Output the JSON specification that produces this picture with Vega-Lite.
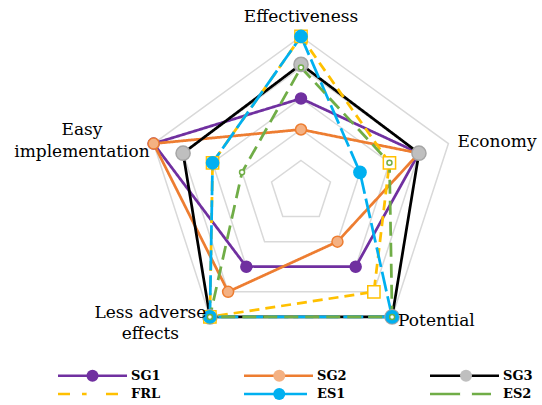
{
  "$schema": "https://vega.github.io/schema/vega-lite/v6.json",
  "width": 542,
  "height": 405,
  "autosize": "none",
  "padding": 0,
  "background": "white",
  "config": {"view": {"stroke": null}, "font": "DejaVu Serif"},
  "datasets": {
    "scores": [
      {"Series": "SG1", "Criterion": "Effectiveness", "Idx": 0, "Score": 3},
      {"Series": "SG1", "Criterion": "Economy", "Idx": 1, "Score": 4},
      {"Series": "SG1", "Criterion": "Potential", "Idx": 2, "Score": 3},
      {"Series": "SG1", "Criterion": "Less adverse effects", "Idx": 3, "Score": 3},
      {"Series": "SG1", "Criterion": "Easy implementation", "Idx": 4, "Score": 5},
      {"Series": "SG2", "Criterion": "Effectiveness", "Idx": 0, "Score": 2},
      {"Series": "SG2", "Criterion": "Economy", "Idx": 1, "Score": 4},
      {"Series": "SG2", "Criterion": "Potential", "Idx": 2, "Score": 2},
      {"Series": "SG2", "Criterion": "Less adverse effects", "Idx": 3, "Score": 4},
      {"Series": "SG2", "Criterion": "Easy implementation", "Idx": 4, "Score": 5},
      {"Series": "SG3", "Criterion": "Effectiveness", "Idx": 0, "Score": 4.1},
      {"Series": "SG3", "Criterion": "Economy", "Idx": 1, "Score": 4},
      {"Series": "SG3", "Criterion": "Potential", "Idx": 2, "Score": 5},
      {"Series": "SG3", "Criterion": "Less adverse effects", "Idx": 3, "Score": 5},
      {"Series": "SG3", "Criterion": "Easy implementation", "Idx": 4, "Score": 4},
      {"Series": "FRL", "Criterion": "Effectiveness", "Idx": 0, "Score": 5},
      {"Series": "FRL", "Criterion": "Economy", "Idx": 1, "Score": 3},
      {"Series": "FRL", "Criterion": "Potential", "Idx": 2, "Score": 4},
      {"Series": "FRL", "Criterion": "Less adverse effects", "Idx": 3, "Score": 5},
      {"Series": "FRL", "Criterion": "Easy implementation", "Idx": 4, "Score": 3},
      {"Series": "ES1", "Criterion": "Effectiveness", "Idx": 0, "Score": 5},
      {"Series": "ES1", "Criterion": "Economy", "Idx": 1, "Score": 2},
      {"Series": "ES1", "Criterion": "Potential", "Idx": 2, "Score": 5},
      {"Series": "ES1", "Criterion": "Less adverse effects", "Idx": 3, "Score": 5},
      {"Series": "ES1", "Criterion": "Easy implementation", "Idx": 4, "Score": 3},
      {"Series": "ES2", "Criterion": "Effectiveness", "Idx": 0, "Score": 4},
      {"Series": "ES2", "Criterion": "Economy", "Idx": 1, "Score": 3},
      {"Series": "ES2", "Criterion": "Potential", "Idx": 2, "Score": 5},
      {"Series": "ES2", "Criterion": "Less adverse effects", "Idx": 3, "Score": 5},
      {"Series": "ES2", "Criterion": "Easy implementation", "Idx": 4, "Score": 2}
    ],
    "rings": [
      {"Level": 1, "Idx": 0}, {"Level": 1, "Idx": 1}, {"Level": 1, "Idx": 2}, {"Level": 1, "Idx": 3}, {"Level": 1, "Idx": 4},
      {"Level": 2, "Idx": 0}, {"Level": 2, "Idx": 1}, {"Level": 2, "Idx": 2}, {"Level": 2, "Idx": 3}, {"Level": 2, "Idx": 4},
      {"Level": 3, "Idx": 0}, {"Level": 3, "Idx": 1}, {"Level": 3, "Idx": 2}, {"Level": 3, "Idx": 3}, {"Level": 3, "Idx": 4},
      {"Level": 4, "Idx": 0}, {"Level": 4, "Idx": 1}, {"Level": 4, "Idx": 2}, {"Level": 4, "Idx": 3}, {"Level": 4, "Idx": 4},
      {"Level": 5, "Idx": 0}, {"Level": 5, "Idx": 1}, {"Level": 5, "Idx": 2}, {"Level": 5, "Idx": 3}, {"Level": 5, "Idx": 4}
    ],
    "criteria": [
      {"Criterion": "Effectiveness", "Label": "Effectiveness", "Idx": 0, "Max": 5},
      {"Criterion": "Economy", "Label": "Economy", "Idx": 1, "Max": 5},
      {"Criterion": "Potential", "Label": "Potential", "Idx": 2, "Max": 5},
      {"Criterion": "Less adverse effects", "Label": "Less adverse\neffects", "Idx": 3, "Max": 5},
      {"Criterion": "Easy implementation", "Label": "Easy\nimplementation", "Idx": 4, "Max": 5}
    ]
  },
  "layer": [
    {
      "data": {"name": "rings"},
      "transform": [
        {"calculate": "datum.Level * sin(datum.Idx * 2 * PI / 5)", "as": "px"},
        {"calculate": "datum.Level * cos(datum.Idx * 2 * PI / 5)", "as": "py"}
      ],
      "mark": {"type": "line", "interpolate": "linear-closed", "stroke": "#D9D9D9", "strokeWidth": 1.5},
      "encoding": {
        "x": {"field": "px", "type": "quantitative", "scale": {"domain": [-9.71, 7.774], "nice": false, "zero": false}, "axis": null},
        "y": {"field": "py", "type": "quantitative", "scale": {"domain": [-6.887, 6.177], "nice": false, "zero": false}, "axis": null},
        "detail": {"field": "Level", "type": "nominal"},
        "order": {"field": "Idx", "type": "quantitative"}
      }
    },
    {
      "data": {"name": "scores"},
      "transform": [
        {"calculate": "datum.Score * sin(datum.Idx * 2 * PI / 5)", "as": "px"},
        {"calculate": "datum.Score * cos(datum.Idx * 2 * PI / 5)", "as": "py"},
        {"calculate": "datum.Series", "as": "DashKey"}
      ],
      "mark": {"type": "line", "interpolate": "linear-closed", "strokeWidth": 2.75},
      "encoding": {
        "x": {"field": "px", "type": "quantitative"},
        "y": {"field": "py", "type": "quantitative"},
        "order": {"field": "Idx", "type": "quantitative"},
        "color": {
          "field": "Series", "type": "nominal",
          "scale": {"domain": ["SG1", "SG2", "SG3", "FRL", "ES1", "ES2"], "range": ["#7030A0", "#ED7D31", "#000000", "#FFC000", "#00B0F0", "#70AD47"]},
          "legend": {
            "title": null,
            "orient": "none",
            "direction": "horizontal",
            "legendX": 56.5,
            "legendY": 366.7,
            "columns": 3,
            "columnPadding": 81,
            "rowPadding": 0.3,
            "gridAlign": "all",
            "clipHeight": 18,
            "padding": 0,
            "symbolType": "stroke",
            "symbolSize": 4761,
            "symbolStrokeWidth": 2.5,
            "symbolOffset": 0,
            "labelOffset": 2.5,
            "labelFont": "DejaVu Serif",
            "labelFontSize": 13,
            "labelFontWeight": "bold",
            "labelColor": "#000000",
            "encode": {
              "symbols": {
                "update": {
                  "strokeDash": {"signal": "datum.value === 'FRL' ? [12, 12] : datum.value === 'ES1' ? [63, 100] : datum.value === 'ES2' ? [61, 100] : [1, 0]"}
                }
              }
            }
          }
        },
        "strokeDash": {
          "field": "DashKey", "type": "nominal",
          "sort": ["SG1", "SG2", "SG3", "FRL", "ES1", "ES2"],
          "scale": {"range": [[1, 0], [1, 0], [1, 0], [10, 6], [20, 5], [14, 7]]},
          "legend": null
        }
      }
    },
    {
      "data": {"name": "scores"},
      "transform": [
        {"calculate": "datum.Score * sin(datum.Idx * 2 * PI / 5)", "as": "px"},
        {"calculate": "datum.Score * cos(datum.Idx * 2 * PI / 5)", "as": "py"},
        {"calculate": "datum.Series", "as": "Marker"}
      ],
      "mark": {"type": "point", "filled": true, "opacity": 1, "strokeWidth": 1.5},
      "encoding": {
        "x": {"field": "px", "type": "quantitative"},
        "y": {"field": "py", "type": "quantitative"},
        "stroke": {
          "field": "Marker", "type": "nominal",
          "sort": ["SG1", "SG2", "SG3", "FRL", "ES1", "ES2"],
          "scale": {"range": ["#7030A0", "#ED7D31", "#A5A5A5", "#FFC000", "#00B0F0", "#70AD47"]},
          "legend": null
        },
        "fill": {
          "field": "Marker", "type": "nominal",
          "sort": ["SG1", "SG2", "SG3", "FRL", "ES1", "ES2"],
          "scale": {"range": ["#7030A0", "#F4B183", "#BFBFBF", "#FFFFFF", "#00B0F0", "#FFFFFF"]},
          "legend": {
            "title": null,
            "orient": "none",
            "direction": "horizontal",
            "legendX": 85.5,
            "legendY": 366.7,
            "columns": 3,
            "columnPadding": 81.75,
            "rowPadding": 0.3,
            "gridAlign": "all",
            "clipHeight": 18,
            "padding": 0,
            "symbolType": "circle",
            "symbolSize": 144,
            "symbolStrokeWidth": 1.5,
            "symbolOffset": 0,
            "labelOffset": 60.5,
            "labelFont": "DejaVu Serif",
            "labelFontSize": 13,
            "labelFontWeight": "bold",
            "labelOpacity": 0,
            "encode": {
              "symbols": {
                "update": {
                  "shape": {"signal": "datum.value === 'FRL' ? 'square' : 'circle'"},
                  "size": {"signal": "datum.value === 'SG3' ? 144 : datum.value === 'ES2' ? 25 : datum.value === 'FRL' ? 100 : 121"},
                  "stroke": {"signal": "datum.value === 'SG1' ? '#7030A0' : datum.value === 'SG2' ? '#ED7D31' : datum.value === 'SG3' ? '#A5A5A5' : datum.value === 'FRL' ? '#FFC000' : datum.value === 'ES1' ? '#00B0F0' : '#70AD47'"},
                  "fillOpacity": {"value": 1},
                  "opacity": {"value": 1}
                }
              }
            }
          }
        },
        "shape": {
          "field": "Marker", "type": "nominal",
          "sort": ["SG1", "SG2", "SG3", "FRL", "ES1", "ES2"],
          "scale": {"range": ["circle", "circle", "circle", "square", "circle", "circle"]},
          "legend": null
        },
        "size": {
          "field": "Marker", "type": "nominal",
          "sort": ["SG1", "SG2", "SG3", "FRL", "ES1", "ES2"],
          "scale": {"type": "ordinal", "range": [121, 121, 200, 150, 150, 25]},
          "legend": null
        }
      }
    },
    {
      "data": {"name": "criteria"},
      "transform": [
        {"filter": "datum.Criterion === 'Effectiveness'"},
        {"calculate": "datum.Max * sin(datum.Idx * 2 * PI / 5)", "as": "px"},
        {"calculate": "datum.Max * cos(datum.Idx * 2 * PI / 5)", "as": "py"}
      ],
      "mark": {"type": "text", "align": "center", "baseline": "alphabetic", "dy": -14, "fontSize": 17, "font": "DejaVu Serif", "color": "#000000"},
      "encoding": {
        "x": {"field": "px", "type": "quantitative"},
        "y": {"field": "py", "type": "quantitative"},
        "text": {"field": "Label", "type": "nominal"}
      }
    },
    {
      "data": {"name": "criteria"},
      "transform": [
        {"filter": "datum.Criterion === 'Economy'"},
        {"calculate": "datum.Max * sin(datum.Idx * 2 * PI / 5)", "as": "px"},
        {"calculate": "datum.Max * cos(datum.Idx * 2 * PI / 5)", "as": "py"}
      ],
      "mark": {"type": "text", "align": "left", "baseline": "alphabetic", "dx": 9, "dy": 3, "fontSize": 17, "font": "DejaVu Serif", "color": "#000000"},
      "encoding": {
        "x": {"field": "px", "type": "quantitative"},
        "y": {"field": "py", "type": "quantitative"},
        "text": {"field": "Label", "type": "nominal"}
      }
    },
    {
      "data": {"name": "criteria"},
      "transform": [
        {"filter": "datum.Criterion === 'Potential'"},
        {"calculate": "datum.Max * sin(datum.Idx * 2 * PI / 5)", "as": "px"},
        {"calculate": "datum.Max * cos(datum.Idx * 2 * PI / 5)", "as": "py"}
      ],
      "mark": {"type": "text", "align": "left", "baseline": "alphabetic", "dx": 6, "dy": 9, "fontSize": 17, "font": "DejaVu Serif", "color": "#000000"},
      "encoding": {
        "x": {"field": "px", "type": "quantitative"},
        "y": {"field": "py", "type": "quantitative"},
        "text": {"field": "Label", "type": "nominal"}
      }
    },
    {
      "data": {"name": "criteria"},
      "transform": [
        {"filter": "datum.Criterion === 'Less adverse effects'"},
        {"calculate": "datum.Max * sin(datum.Idx * 2 * PI / 5)", "as": "px"},
        {"calculate": "datum.Max * cos(datum.Idx * 2 * PI / 5)", "as": "py"}
      ],
      "mark": {"type": "text", "align": "center", "baseline": "alphabetic", "dx": -59.5, "dy": 1, "lineBreak": "\n", "lineHeight": 21, "fontSize": 17, "font": "DejaVu Serif", "color": "#000000"},
      "encoding": {
        "x": {"field": "px", "type": "quantitative"},
        "y": {"field": "py", "type": "quantitative"},
        "text": {"field": "Label", "type": "nominal"}
      }
    },
    {
      "data": {"name": "criteria"},
      "transform": [
        {"filter": "datum.Criterion === 'Easy implementation'"},
        {"calculate": "datum.Max * sin(datum.Idx * 2 * PI / 5)", "as": "px"},
        {"calculate": "datum.Max * cos(datum.Idx * 2 * PI / 5)", "as": "py"}
      ],
      "mark": {"type": "text", "align": "center", "baseline": "alphabetic", "dx": -71.6, "dy": -8.6, "lineBreak": "\n", "lineHeight": 22, "fontSize": 17, "font": "DejaVu Serif", "color": "#000000"},
      "encoding": {
        "x": {"field": "px", "type": "quantitative"},
        "y": {"field": "py", "type": "quantitative"},
        "text": {"field": "Label", "type": "nominal"}
      }
    }
  ]
}
